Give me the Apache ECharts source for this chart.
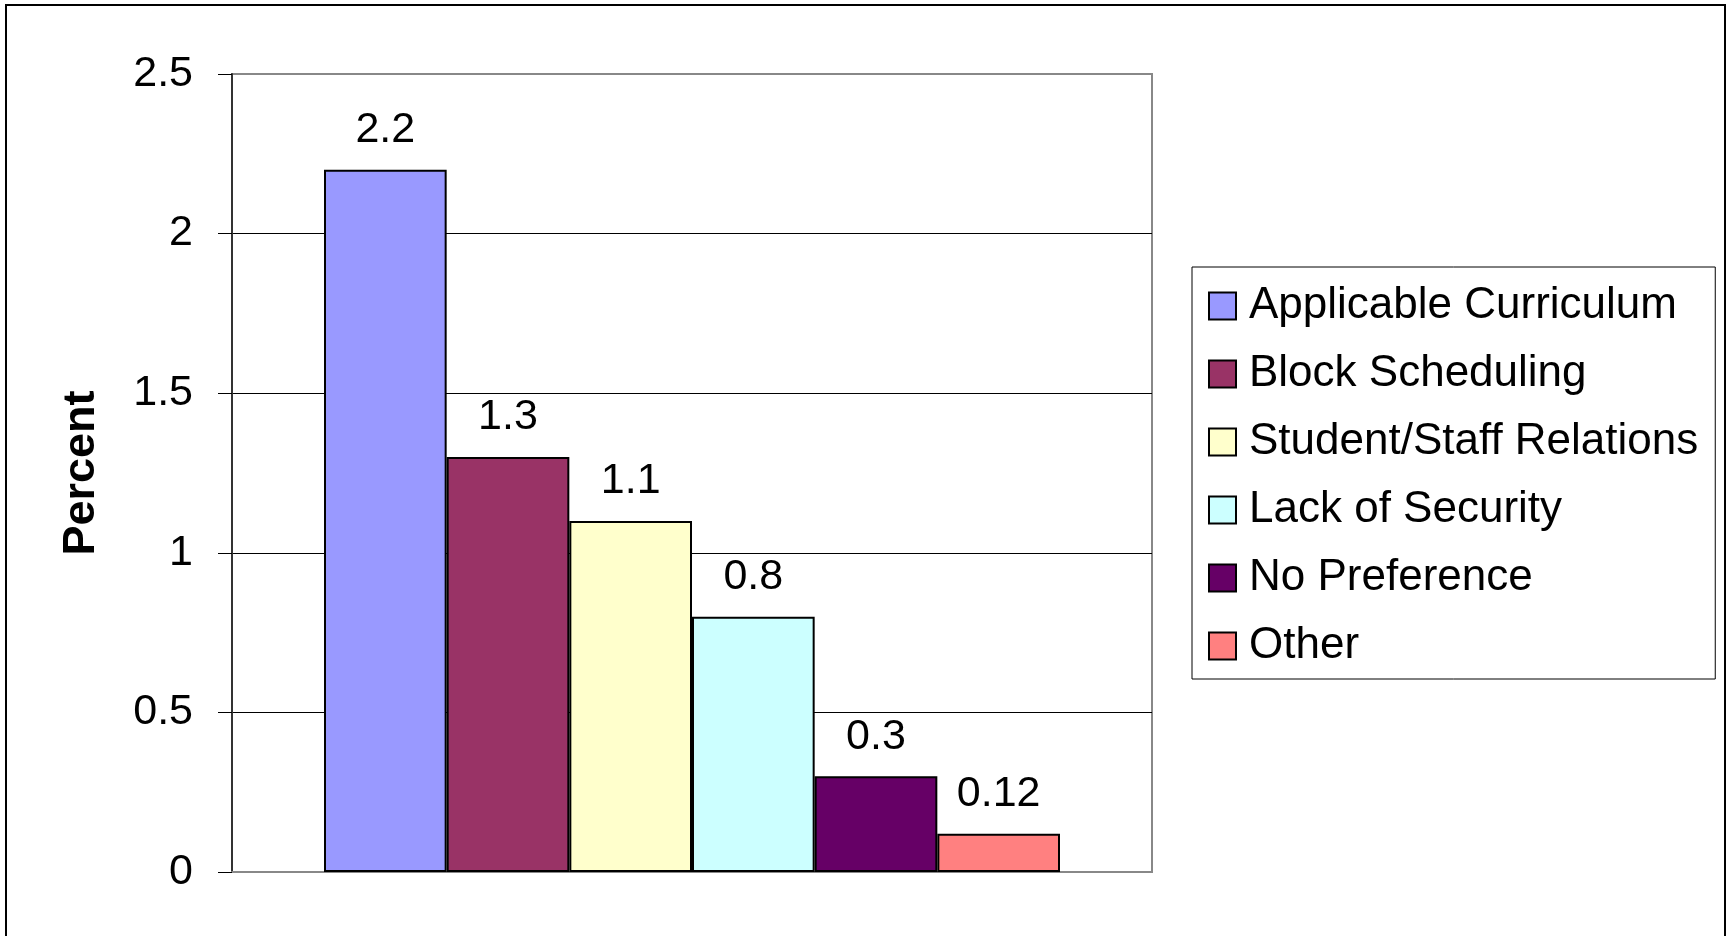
<!DOCTYPE html>
<html>
<head>
<meta charset="utf-8">
<script src="https://cdn.jsdelivr.net/npm/echarts@6/dist/echarts.min.js"></script>
<style>
  html, body { margin: 0; padding: 0; background: #fff; }
  #chart { width: 1730px; height: 936px; }
</style>
</head>
<body>
<div id="chart"></div>
<script>
// data
const categories = ['Applicable Curriculum', 'Block Scheduling', 'Student/Staff Relations',
  'Lack of Security', 'No Preference', 'Other']
const values = [2.2, 1.3, 1.1, 0.8, 0.3, 0.12]
const colors = ['#9999FF', '#993366', '#FFFFCC', '#CCFFFF', '#660066', '#FF8080']
const yTicks = { min: 0, max: 2.5, interval: 0.5 }

const font = 'Liberation Sans, Arial, sans-serif'

let myChart = echarts.init(document.getElementById('chart'))

let series = []
for (let i = 0; i < categories.length; i++) {
  series.push({
    name: categories[i],
    type: 'bar',
    data: [values[i]],
    barGap: '0%',
    barCategoryGap: '20%',
    itemStyle: {
      color: colors[i],
      borderColor: '#000',
      borderWidth: 2
    },
    label: {
      show: true,
      position: 'top',
      distance: 18,
      fontSize: 43,
      fontFamily: font,
      color: '#000'
    }
  })
}

myChart.setOption({
  animation: false,
  backgroundColor: '#fff',
  graphic: [{
    type: 'rect',
    shape: { x: 6, y: 5, width: 1719, height: 980 },
    style: { fill: 'none', stroke: '#000', lineWidth: 2 },
    z: -10
  }],
  grid: {
    left: 232,
    top: 74,
    right: 578,
    bottom: 64,
    show: true,
    borderColor: '#888',
    borderWidth: 2,
    backgroundColor: '#fff'
  },
  legend: {
    orient: 'vertical',
    left: 1192,
    top: 267,
    padding: [17, 17, 11, 16],
    itemGap: 24,
    itemWidth: 27,
    itemHeight: 27,
    icon: 'rect',
    borderColor: '#000',
    borderWidth: 1,
    itemStyle: { borderColor: '#000', borderWidth: 2 },
    textStyle: { fontSize: 44, fontFamily: font, color: '#000', padding: [0, 0, 0, 8] },
    data: categories
  },
  xAxis: {
    type: 'category',
    data: [''],
    axisLine: { lineStyle: { color: '#888', width: 2 } },
    axisTick: { show: false },
    axisLabel: { show: false }
  },
  yAxis: {
    type: 'value',
    min: yTicks.min,
    max: yTicks.max,
    interval: yTicks.interval,
    name: 'Percent',
    nameLocation: 'middle',
    nameGap: 128,
    nameTextStyle: { fontSize: 45, fontWeight: 'bold', fontFamily: font, color: '#000' },
    axisLine: { show: true, lineStyle: { color: '#333', width: 2 } },
    axisTick: { show: true, length: 14, lineStyle: { color: '#000', width: 1 } },
    axisLabel: { fontSize: 43, fontFamily: font, color: '#000', margin: 39 },
    splitLine: { show: true, showMinLine: false, showMaxLine: false, lineStyle: { color: '#000', width: 1 } }
  },
  series: series
})
</script>
</body>
</html>
